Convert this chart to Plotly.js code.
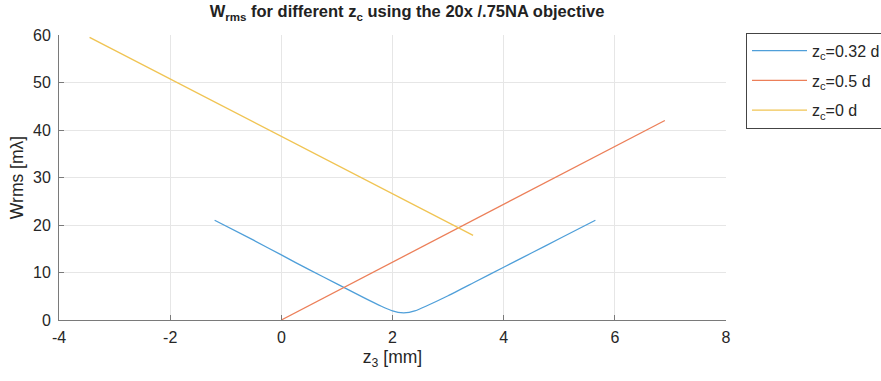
<!DOCTYPE html>
<html>
<head>
<meta charset="utf-8">
<script src="https://cdn.plot.ly/plotly-3.0.1.min.js"></script>
<style>html,body{margin:0;padding:0;background:#fff;}#chart{width:881px;height:381px;}</style>
</head>
<body>
<div id="chart"></div>
<script>
// Data
const blueX = [-1.2, -0.5, 0, 0.5, 1, 1.5, 1.8, 2.0, 2.1, 2.2, 2.3, 2.4, 2.6, 3, 3.5, 4, 4.5, 5, 5.65];
const blueY = [21, 16.8, 13.7, 10.6, 7.6, 4.6, 2.9, 1.9, 1.6, 1.5, 1.6, 1.9, 2.9, 5.1, 8.1, 11.1, 14.1, 17.1, 21];
const orangeX = [0, 6.9];
const orangeY = [0, 42];
const yellowX = [-3.45, 3.45];
const yellowY = [59.5, 17.8];
const seriesNames = ['z<sub>c</sub>=0.32 d', 'z<sub>c</sub>=0.5 d', 'z<sub>c</sub>=0 d'];
const xTicks = [-4, -2, 0, 2, 4, 6, 8];
const yTicks = [0, 10, 20, 30, 40, 50, 60];

const font = 'Liberation Sans, Arial, Helvetica, sans-serif';
const traces = [
  {x: blueX, y: blueY, name: seriesNames[0], legendgroup: 'a', mode: 'lines', line: {color: '#4f9fd9', width: 1.3, shape: 'spline', smoothing: 0.6}},
  {x: orangeX, y: orangeY, name: seriesNames[1], legendgroup: 'b', mode: 'lines', line: {color: '#ec7f59', width: 1.3}},
  {x: yellowX, y: yellowY, name: seriesNames[2], legendgroup: 'c', mode: 'lines', line: {color: '#f0c453', width: 1.3}}
];
const layout = {
  width: 881, height: 381,
  margin: {l: 59, r: 155, t: 35, b: 61, autoexpand: false},
  paper_bgcolor: '#fff', plot_bgcolor: '#fff',
  font: {family: font, size: 16, color: '#262626'},
  title: {text: '<b>W<sub>rms</sub> for different z<sub>c</sub> using the 20x /.75NA objective</b>', x: 0.462, xanchor: 'center', y: 0.985, yanchor: 'top', font: {family: font, size: 16.5, color: '#222'}},
  xaxis: {
    range: [-4, 8], tickvals: xTicks, ticktext: xTicks.map(String),
    showgrid: true, gridcolor: '#e6e6e6', gridwidth: 1,
    zeroline: false, showline: true, linecolor: '#7a7a7a', linewidth: 1,
    ticks: 'inside', ticklen: 5, tickcolor: '#7a7a7a', ticklabelstandoff: 3,
    tickfont: {size: 16, color: '#262626'},
    title: {text: 'z<sub>3</sub> [mm]', font: {size: 17.5, color: '#262626'}, standoff: 5}
  },
  yaxis: {
    range: [0, 60], tickvals: yTicks, ticktext: yTicks.map(String),
    showgrid: true, gridcolor: '#e6e6e6', gridwidth: 1,
    zeroline: false, showline: true, linecolor: '#7a7a7a', linewidth: 1,
    ticks: 'inside', ticklen: 5, tickcolor: '#7a7a7a', ticklabelstandoff: 4,
    tickfont: {size: 16, color: '#262626'},
    title: {text: 'Wrms [mλ]', font: {size: 17.5, color: '#262626'}, standoff: 4}
  },
  showlegend: true,
  legend: {x: 1.03, xanchor: 'left', y: 1.008, yanchor: 'top', bordercolor: '#444', borderwidth: 1, bgcolor: '#fff', font: {size: 16, color: '#262626'}, tracegroupgap: 6, itemwidth: 55}
};
Plotly.newPlot('chart', traces, layout, {displayModeBar: false, staticPlot: true});
</script>
</body>
</html>
